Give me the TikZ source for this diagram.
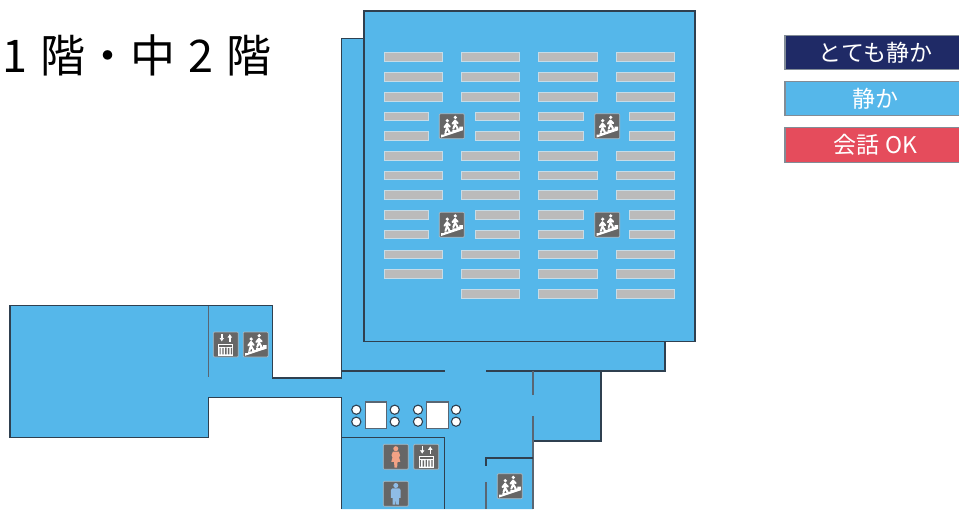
\documentclass[tikz,border=0pt]{standalone}
\usepackage{fontspec}
\setmainfont{Noto Sans CJK JP}
\usetikzlibrary{arrows.meta}
\definecolor{floorblue}{HTML}{55B7EA}
\definecolor{wallc}{HTML}{2F4050}
\definecolor{navyc}{HTML}{1F2A66}
\definecolor{redc}{HTML}{E54C5C}
\definecolor{shelfc}{HTML}{BBBBBB}
\definecolor{iconc}{HTML}{666666}
\definecolor{iconb}{HTML}{A9BBC6}
\definecolor{womanc}{HTML}{F2A285}
\definecolor{manc}{HTML}{8FBCE6}
\tikzset{
  floorarea/.style={fill=floorblue,draw=wallc,line width=1.1pt,line join=miter},
  wall/.style={draw=wallc,line width=1.1pt},
  softwall/.style={draw=wallc!80!white,line width=1.3pt},
  shelf/.style={fill=shelfc,draw=shelfc!55!floorblue!50!white,line width=.7pt},
  tablebox/.style={fill=white,draw=wallc!80!white,line width=1.1pt},
  seat/.style={fill=white,draw=wallc,line width=1.1pt},
  iconbox/.style={fill=iconc,draw=iconb,line width=.7pt,rounded corners=1pt},
  legendbox/.style={draw=wallc!60!white,line width=1.1pt},
  legendtext/.style={text=white,font=\fontsize{23}{27}\selectfont,anchor=center,inner sep=0pt},
  personline/.style={white,line width=2pt,line cap=round,line join=round},
  pics/stairsicon/.style={code={
    \draw[iconbox] (0,0) rectangle (25,25);
    \fill[white] (1.8,23.8) -- (1.8,21) -- (5,21) -- (5,19.4) -- (9,19.4) -- (9,17.8) -- (13,17.8) -- (13,16.2) -- (17,16.2) -- (17,14.6) -- (20,14.6) -- (20,13) -- (23.5,13) -- (23.5,16.6) -- cycle;
    \fill[white] (8,7) circle (1.8) (16,3.7) circle (1.8);
    \draw[personline] (7.8,10) -- (7.8,14) -- (6.2,18.5) (7.8,14) -- (10,18) (5.2,13.5) -- (7.8,10) -- (10.5,13);
    \draw[personline] (15.8,6.8) -- (15.8,10.5) -- (14,15) (15.8,10.5) -- (18.2,14.5) (13.2,10) -- (15.8,6.8) -- (18.4,9.5);
  }},
  pics/lifticon/.style={code={
    \draw[iconbox] (0,0) rectangle (25,25);
    \fill[white] (5,11.5) rectangle (20,23.5);
    \fill[iconc] (6,12.6) rectangle (19,14.6);
    \fill[iconc] (6.2,15.8) rectangle (7.2,22.3) (9,16) rectangle (10.4,22.3) (11.8,15.5) rectangle (13.2,22.3) (14.6,16) rectangle (16,22.3) (17.6,15.8) rectangle (18.8,22.3);
    \draw[white,line width=1.4pt,-{Latex[length=3.5pt,width=5pt]}] (8.5,2) -- (8.5,9.5);
    \draw[white,line width=1.4pt,-{Latex[length=3.5pt,width=5pt]}] (16.5,9.5) -- (16.5,2);
  }},
  pics/womanicon/.style={code={
    \draw[iconbox] (0,0) rectangle (25,25);
    \fill[womanc] (12.5,4.4) circle (2.5);
    \fill[womanc] (9.6,7.2) -- (15.4,7.2) -- (16.8,11) -- (15.8,13) -- (17,17.5) -- (14.3,17.5) -- (13.8,23.2) -- (11.2,23.2) -- (10.7,17.5) -- (8,17.5) -- (9.2,13) -- (8.2,11) -- cycle;
  }},
  pics/manicon/.style={code={
    \draw[iconbox] (0,0) rectangle (25,25);
    \fill[manc] (12.5,4.2) circle (2.5);
    \fill[manc] (9,7) -- (16,7) -- (17.4,8.8) -- (17.4,16.5) -- (15.8,16.5) -- (15.6,23.4) -- (13,23.4) -- (12.5,17.5) -- (12,23.4) -- (9.4,23.4) -- (9.2,16.5) -- (7.6,16.5) -- (7.6,8.8) -- cycle;
  }},
}
\begin{document}
\begin{tikzpicture}[x=1pt,y=-1pt]
\useasboundingbox (0,0) rectangle (959,509);
% left wing and corridor, lower rooms
\fill[floorblue] (10,305.5) -- (272.5,305.5) -- (272.5,378) -- (341.5,378) -- (341.5,38.5) -- (665,38.5) -- (665,371) -- (601,371) -- (601,441) -- (533,441) -- (533,509) -- (341.5,509) -- (341.5,397.5) -- (208.5,397.5) -- (208.5,437.5) -- (10,437.5) -- cycle;
\draw[wall] (341.5,509) -- (341.5,397.5) -- (208.5,397.5) -- (208.5,437.5) -- (10,437.5) -- (10,305.5) -- (272.5,305.5) -- (272.5,378) -- (341.5,378) -- (341.5,38.5) -- (364,38.5);
\draw[wall] (665,342) -- (665,371) -- (486,371);
\draw[wall] (341.5,371) -- (444.5,371);
\draw[wall] (601,371) -- (601,441) -- (533,441);
\draw[softwall] (533,509) -- (533,416);
\draw[softwall] (533,395) -- (533,371);
\draw[softwall] (208.5,305.5) -- (208.5,377);
\draw[wall] (341.5,437.5) -- (444.5,437.5) -- (444.5,509);
\draw[wall] (533,458) -- (486,458) -- (486,465.5);
\draw[softwall] (486,482) -- (486,509);
% main hall
\draw[floorarea] (364,11) rectangle (695,341.5);
% shelves: full rows
\foreach \y in {52.5,72.5,92.5,151.5,171,190.8,250,269.3}{
  \foreach \x in {384,461.3,538.8,616.2}{
    \draw[shelf] (\x,\y) rectangle ++(58.5,8.8);
  }
}
\foreach \x in {461.3,538.8,616.2}{\draw[shelf] (\x,289.3) rectangle ++(58.5,8.8);}
% shelves: short rows
\foreach \y in {112,131.5,210.5,230}{
  \foreach \x in {384,475,538.8,629.8}{
    \draw[shelf] (\x,\y) rectangle ++(44.7,8.8);
  }
}
% tables and seats
\draw[tablebox] (365.3,402) rectangle (386.5,428.5);
\draw[tablebox] (426.5,402) rectangle (448.2,428.5);
\foreach \x in {356.3,394.7,418,456}{
  \foreach \y in {409.7,421.7}{
    \draw[seat] (\x,\y) circle (4.6);
  }
}
% icons
\pic at (439.3,113.7) {stairsicon};
\pic at (594.7,113.7) {stairsicon};
\pic at (439.3,212.2) {stairsicon};
\pic at (594.7,212.2) {stairsicon};
\pic at (243.2,332) {stairsicon};
\pic at (213.3,332) {lifticon};
\pic at (497.3,473.7) {stairsicon};
\pic at (413.7,444.3) {lifticon};
\pic at (383.3,444.3) {womanicon};
\pic at (383.3,481.3) {manicon};
% title
\node[anchor=west,inner sep=0pt,font=\fontsize{45}{54}\selectfont] (title) at (2,55) {1\hspace{.29em}階・中\hspace{.29em}2\hspace{.29em}階};
% legend
\draw[legendbox,fill=navyc] (785,35.2) rectangle (965,69.5);
\draw[legendbox,fill=floorblue] (785,81.8) rectangle (965,115.8);
\draw[legendbox,fill=redc] (785,127.8) rectangle (965,162.3);
\node[legendtext] (quiet2) at (875.5,52.5) {とても静か};
\node[legendtext] (quiet1) at (875.5,98.5) {静か};
\node[legendtext] (talk) at (875.5,145) {会話 OK};
\end{tikzpicture}
\end{document}
